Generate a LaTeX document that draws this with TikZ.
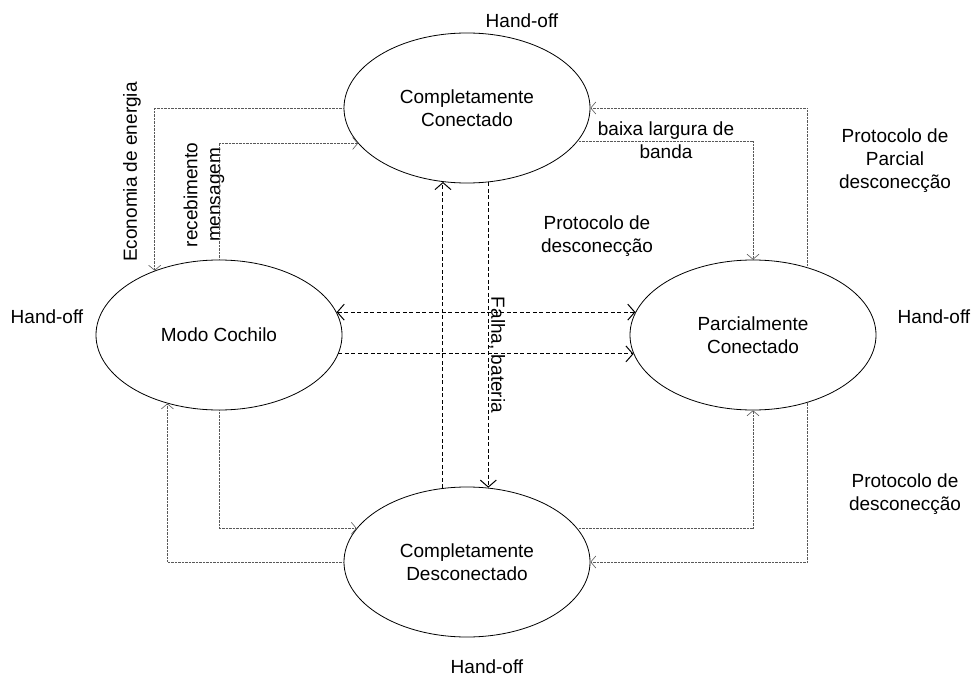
\documentclass[tikz,border=0pt]{standalone}
\usepackage{fontspec}
\setmainfont{Liberation Sans}
\usetikzlibrary{positioning,shapes.geometric,arrows.meta}

\begin{document}
\begin{tikzpicture}[x=1bp, y=-1bp,
        state/.style={draw, ellipse, line width=0.8bp, minimum width=246bp, minimum height=150bp, inner sep=0pt, align=center, font=\fontsize{19bp}{23bp}\selectfont},
        lbl/.style={align=center, inner sep=0pt, font=\fontsize{19bp}{23bp}\selectfont},
        soft/.style={gray!70!black, line width=0.6bp, dash pattern=on 0.8bp off 0.6bp, -{Straight Barb[length=5bp,width=12bp]}},
        hard/.style={line width=1bp, dash pattern=on 4bp off 2.5bp, -{Straight Barb[length=7bp,width=16bp]}}
    ]
    \useasboundingbox (0,0) rectangle (975,679);
    \node[state] (CC) at (467,108) {Completamente\\Conectado};
    \node[state] (MC) at (219,335) {Modo Cochilo};
    \node[state] (PC) at (753,335) {Parcialmente\\Conectado};
    \node[state] (CD) at (467,562) {Completamente\\Desconectado};

    \foreach \name/\x/\y in {hT/522/21, hL/47/317, hR/934/317, hB/487/667} {
        \node[lbl] (\name) at (\x,\y) {Hand-off};
    }
    \node[lbl, rotate=90] (eco) at (132,172) {Economia de energia};
    \node[lbl, rotate=90] (rec) at (204,195) {recebimento\\mensagem};
    \node[lbl, rotate=-90] (fal) at (497,355) {Falha, bateria};
    \node[lbl] (bai) at (666,140) {baixa largura de\\banda};
    \node[lbl] (ppd) at (895,161) {Protocolo de\\Parcial\\desconecção};
    \node[lbl] (pdm) at (597,236) {Protocolo de\\desconecção};
    \node[lbl] (pdb) at (905,494) {Protocolo de\\desconecção};

    % dotted transitions
    \draw[soft] (CC.west) -| (MC.135);
    \draw[soft] (MC.north) |- (CC.198);
    \draw[soft] (CC.-17) -| (PC.north);
    \draw[soft] (PC.51) |- (CC.east);
    \draw[soft] (PC.-51) |- (CD.east);
    \draw[soft] (CD.17) -| (PC.south);
    \draw[soft] (MC.south) |- (CD.163);
    \draw[soft] (CD.west) -| (MC.233);

    % dashed transitions
    \draw[hard] (CD.108) -- (CC.252);
    \draw[hard] (CC.-74) -- (CD.74);
    \draw[hard, {Straight Barb[length=7bp,width=16bp]}-{Straight Barb[length=7bp,width=16bp]}] (MC.11) -- (PC.169);
    \draw[hard] (MC.-9) -- (PC.189);
\end{tikzpicture}
\end{document}
